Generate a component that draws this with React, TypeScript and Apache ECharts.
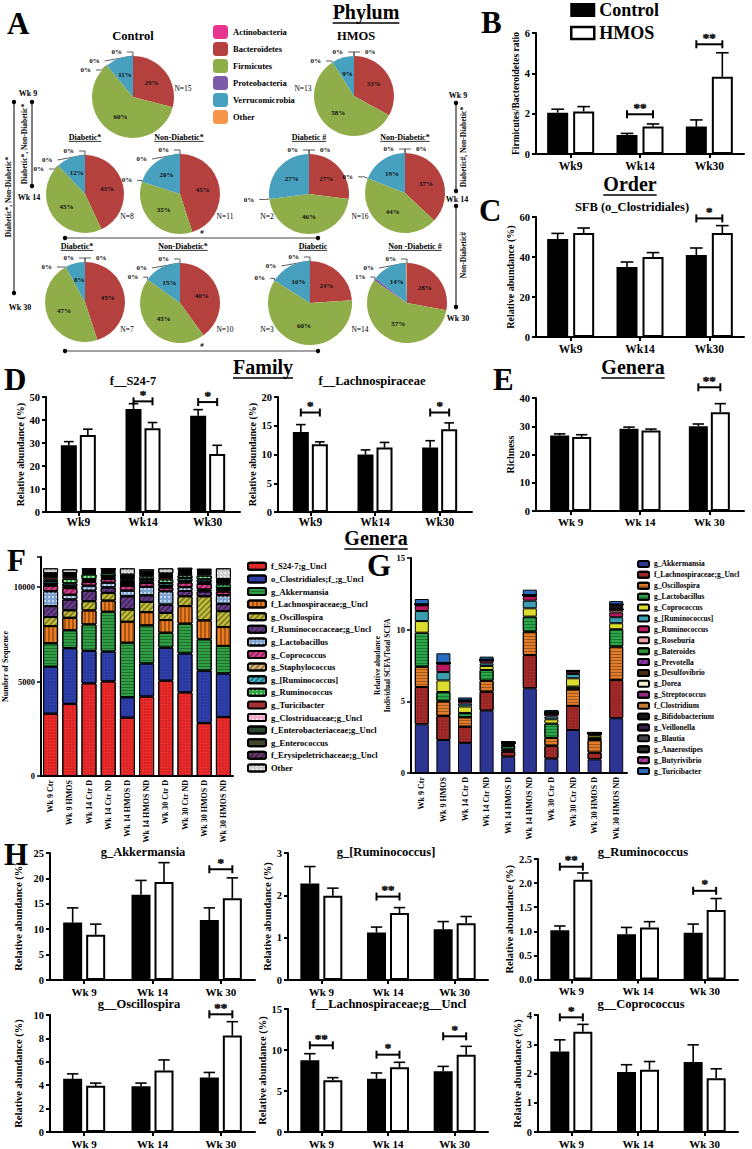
import React, { useEffect, useRef } from 'react';
import * as echarts from 'echarts';

const FONT = '"Liberation Serif", "Times New Roman", Times, serif';

/* ---------------- A : phylum pies ---------------- */
const phyla = ['Actinobacteria', 'Bacteroidetes', 'Firmicutes', 'Proteobacteria', 'Verrucomicrobia', 'Other'];
const pieCtrlWk9 = [0, 29, 60, 0, 11, 0];
const pieHmosWk9 = [0, 33, 58, 0, 9, 0];
const pieCtrlWk14D = [0, 43, 45, 0, 12, 0];
const pieCtrlWk14ND = [0, 45, 35, 0, 20, 0];
const pieHmosWk14D = [0, 27, 46, 0, 27, 0];
const pieHmosWk14ND = [0, 37, 44, 0, 19, 0];
const pieCtrlWk30D = [0, 45, 47, 0, 8, 0];
const pieCtrlWk30ND = [0, 40, 45, 0, 15, 0];
const pieHmosWk30D = [0, 24, 60, 0, 16, 0];
const pieHmosWk30ND = [0, 28, 57, 1, 14, 0.4];
const pieN = ['N=15', 'N=13', 'N=8', 'N=11', 'N=2', 'N=16', 'N=7', 'N=10', 'N=3', 'N=14'];

/* ---------------- bar charts ---------------- */
const weeks = ['Wk9', 'Wk14', 'Wk30'];
const weeksSp = ['Wk 9', 'Wk 14', 'Wk 30'];

// B Firmicutes/Bacteroidetes
const fbCtrl = [2.05, 0.94, 1.36];
const fbCtrlErr = [0.17, 0.08, 0.33];
const fbHmos = [2.11, 1.36, 3.83];
const fbHmosErr = [0.24, 0.13, 1.19];
const fbSig = [{ cat: 1, y: 1.97, label: '**' }, { cat: 2, y: 5.44, label: '**' }];
// C SFB
const sfbCtrl = [49, 35, 41];
const sfbCtrlErr = [2.8, 2.5, 3.5];
const sfbHmos = [52, 40, 52];
const sfbHmosErr = [2.5, 2.2, 3.7];
const sfbSig = [{ cat: 2, y: 59.3, label: '*' }];
// D f__S24-7
const s247Ctrl = [29, 44.8, 41.8];
const s247CtrlErr = [1.6, 2.3, 2.7];
const s247Hmos = [33.5, 36.4, 25.2];
const s247HmosErr = [2.5, 2.5, 3.8];
const s247Sig = [{ cat: 1, y: 48.1, label: '*' }, { cat: 2, y: 47.8, label: '*' }];
// D f__Lachnospiraceae
const lachCtrl = [13.9, 10, 11.2];
const lachCtrlErr = [1.3, 0.8, 1.2];
const lachHmos = [11.8, 11.2, 14.4];
const lachHmosErr = [0.4, 0.9, 1.1];
const lachSig = [{ cat: 0, y: 17.3, label: '*' }, { cat: 2, y: 17.3, label: '*' }];
// E richness
const richCtrl = [26.7, 29.1, 30];
const richCtrlErr = [0.6, 0.6, 0.8];
const richHmos = [26.2, 28.5, 35];
const richHmosErr = [0.8, 0.5, 3];
const richSig = [{ cat: 2, y: 43.8, label: '**' }];
// H
const akkCtrl = [11.3, 16.8, 11.8];
const akkCtrlErr = [2.9, 2.8, 2.4];
const akkHmos = [8.9, 19.3, 16.1];
const akkHmosErr = [2.1, 3.8, 4.0];
const akkSig = [{ cat: 2, y: 21.8, label: '*' }];
const brumCtrl = [2.28, 1.12, 1.2];
const brumCtrlErr = [0.4, 0.13, 0.18];
const brumHmos = [1.99, 1.58, 1.34];
const brumHmosErr = [0.18, 0.13, 0.16];
const brumSig = [{ cat: 1, y: 1.97, label: '**' }];
const rumCtrl = [1.02, 0.94, 0.97];
const rumCtrlErr = [0.09, 0.14, 0.18];
const rumHmos = [2.07, 1.08, 1.44];
const rumHmosErr = [0.14, 0.12, 0.24];
const rumSig = [{ cat: 0, y: 2.34, label: '**' }, { cat: 2, y: 1.84, label: '*' }];
const oscCtrl = [4.55, 3.9, 4.66];
const oscCtrlErr = [0.42, 0.28, 0.43];
const oscHmos = [3.95, 5.26, 8.24];
const oscHmosErr = [0.23, 0.9, 1.19];
const oscSig = [{ cat: 2, y: 10.06, label: '**' }];
const lachUnclCtrl = [8.74, 6.5, 7.4];
const lachUnclCtrlErr = [0.81, 0.7, 0.6];
const lachUnclHmos = [6.3, 7.89, 9.43];
const lachUnclHmosErr = [0.33, 0.61, 1.02];
const lachUnclSig = [{ cat: 0, y: 10.57, label: '**' }, { cat: 1, y: 9.43, label: '*' }, { cat: 2, y: 11.67, label: '*' }];
const coproCtrl = [2.75, 2.05, 2.39];
const coproCtrlErr = [0.4, 0.25, 0.59];
const coproHmos = [3.43, 2.13, 1.84];
const coproHmosErr = [0.25, 0.28, 0.32];
const coproSig = [{ cat: 0, y: 3.92, label: '*' }];

/* ---------------- F : sequences per genus ---------------- */
const fCats = ['Wk 9 Ctr', 'Wk 9 HMOS', 'Wk 14 Ctr D', 'Wk 14 Ctr ND', 'Wk 14 HMOS D', 'Wk 14 HMOS ND', 'Wk 30 Ctr D', 'Wk 30 Ctr ND', 'Wk 30 HMOS D', 'Wk 30 HMOS ND'];
const fNames = ['f_S24-7;g_Uncl', 'o_Clostridiales;f_;g_Uncl', 'g_Akkermansia', 'f_Lachnospiraceae;g_Uncl', 'g_Oscillospira', 'f_Ruminococcaceae;g_Uncl', 'g_Lactobacillus', 'g_Coprococcus', 'g_Staphylococcus', 'g_[Ruminococcus]', 'g_Ruminococcus', 'g_Turicibacter', 'g_Clostriduaceae;g_Uncl', 'f_Enterobacteriaceae;g_Uncl', 'g_Enterococcus', 'f_Erysipeletrichaceae;g_Uncl', 'Other'];
const fS247 = [3300, 3820, 4910, 5010, 3090, 4210, 5050, 4430, 2800, 3120];
const fClostridiales = [2490, 2950, 1720, 1580, 1080, 1750, 1750, 2060, 2780, 2310];
const fAkkermansia = [1240, 950, 1400, 2110, 2890, 2020, 790, 1580, 1660, 1460];
const fLachno = [910, 660, 740, 590, 1110, 700, 670, 930, 1000, 1000];
const fOscillospira = [480, 400, 490, 410, 650, 540, 380, 520, 1280, 840];
const fRuminococcaceae = [580, 570, 560, 290, 700, 350, 440, 280, 260, 390];
const fLactobacillus = [780, 250, 260, 250, 300, 450, 700, 200, 100, 450];
const fCoprococcus = [300, 350, 200, 200, 250, 200, 200, 250, 300, 200];
const fStaphylococcus = [80, 100, 50, 50, 100, 80, 80, 80, 80, 80];
const fBrRuminococcus = [150, 150, 100, 100, 100, 120, 150, 150, 150, 100];
const fRuminococcus = [100, 250, 250, 150, 100, 150, 200, 150, 200, 200];
const fTuricibacter = [120, 100, 50, 80, 80, 60, 100, 80, 80, 60];
const fClostridiaceae = [60, 50, 50, 50, 50, 50, 60, 60, 50, 80];
const fEnterobacteriaceae = [50, 50, 50, 50, 50, 50, 60, 60, 50, 50];
const fEnterococcus = [40, 50, 50, 30, 40, 50, 50, 50, 50, 50];
const fErysipelotrichaceae = [60, 50, 50, 30, 80, 50, 50, 50, 50, 50];
const fOther = [260, 200, 70, 20, 330, 120, 270, 100, 90, 560];
const fSeries = [fS247, fClostridiales, fAkkermansia, fLachno, fOscillospira, fRuminococcaceae, fLactobacillus, fCoprococcus, fStaphylococcus, fBrRuminococcus, fRuminococcus, fTuricibacter, fClostridiaceae, fEnterobacteriaceae, fEnterococcus, fErysipelotrichaceae, fOther];

/* ---------------- G : SCFA producers ---------------- */
const gNames = ['g_Akkermansia', 'f_Lachnospiraceae;g_Uncl', 'g_Oscillospira', 'g_Lactobacillus', 'g_Coprococcus', 'g_[Ruminococcus]', 'g_Ruminococcus', 'g_Roseburia', 'g_Bateroides', 'g_Prevotella', 'g_Desulfovibrio', 'g_Dorea', 'g_Streptococcus', 'f_Clostridium', 'g_Bifidobacterium', 'g_Veillonella', 'g_Blautia', 'g_Anaerostipes', 'g_Butyrivibrio', 'g_Turicibacter'];
const gAkkermansia = [3.4, 2.3, 2.1, 4.35, 1.14, 5.91, 1.0, 3.0, 0.95, 3.82];
const gLachno = [2.6, 1.68, 1.13, 1.32, 0.35, 2.32, 0.9, 1.68, 0.47, 2.67];
const gOscillospira = [1.42, 1.02, 0.66, 0.77, 0.15, 1.63, 0.55, 1.16, 0.88, 2.33];
const gLactobacillus = [2.37, 0.65, 0.3, 0.75, 0.25, 1.05, 1.0, 0.19, 0.15, 1.21];
const gCoprococcus = [0.81, 0.81, 0.45, 0.28, 0.05, 0.58, 0.3, 0.58, 0.17, 0.42];
const gBrRuminococcus = [0.7, 0.58, 0.2, 0.18, 0.05, 0.53, 0.2, 0.3, 0.05, 0.42];
const gRuminococcus = [0.4, 0.58, 0.17, 0.19, 0.05, 0.33, 0.15, 0.16, 0.05, 0.33];
const gRoseburia = [0.03, 0.02, 0.02, 0.03, 0.01, 0.03, 0.02, 0.02, 0.01, 0.19];
const gBateroides = [0.02, 0.02, 0.01, 0.02, 0.03, 0.02, 0.02, 0.02, 0.01, 0.02];
const gPrevotella = [0, 0, 0, 0, 0, 0, 0, 0, 0, 0];
const gDesulfovibrio = [0, 0, 0, 0, 0.01, 0, 0, 0, 0.03, 0];
const gDorea = [0, 0, 0, 0, 0, 0, 0, 0, 0, 0];
const gStreptococcus = [0, 0, 0, 0, 0, 0, 0, 0, 0, 0];
const gClostridium = [0, 0, 0, 0, 0, 0, 0, 0, 0, 0];
const gBifidobacterium = [0.02, 0.02, 0.03, 0.02, 0.05, 0.02, 0.1, 0.02, 0.05, 0.35];
const gVeillonella = [0, 0, 0, 0, 0, 0, 0, 0, 0, 0];
const gBlautia = [0, 0, 0, 0, 0, 0, 0, 0, 0, 0];
const gAnaerostipes = [0, 0, 0, 0, 0, 0, 0, 0, 0, 0];
const gButyrivibrio = [0, 0, 0, 0, 0, 0, 0, 0, 0, 0];
const gTuricibacter = [0.37, 0.67, 0.2, 0.21, 0.05, 0.37, 0.15, 0.05, 0.02, 0.23];
const gSeries = [gAkkermansia, gLachno, gOscillospira, gLactobacillus, gCoprococcus, gBrRuminococcus, gRuminococcus, gRoseburia, gBateroides, gPrevotella, gDesulfovibrio, gDorea, gStreptococcus, gClostridium, gBifidobacterium, gVeillonella, gBlautia, gAnaerostipes, gButyrivibrio, gTuricibacter];

/* ---------------- styles & layout ---------------- */
const NB = '\u00a0';
const phylaColors = ['#e8348f', '#b5413f', '#8fae4a', '#7d5ba6', '#47a0be', '#f6964a'];
const fColors = ['#ee2a2a', '#2e3fae', '#2f9e44', '#ee7d22', '#c9c43c', '#6b3f8f', '#7fa3d0', '#e0408e', '#e0bd7a', '#3fb7cc', '#27a83a', '#a83232', '#f2a8c8', '#2d4a33', '#4a4a30', '#6a3a6e', '#cfcfcf'];
const gColors = ['#2d3593', '#a52a2a', '#e27c2a', '#2aa748', '#dcdc2c', '#3a9eb0', '#b8185e', '#e8a0a0', '#2f9a3a', '#9a3fc0', '#4a3010', '#f2f0cc', '#a82a8a', '#c27a2c', '#151515', '#3b1f4f', '#444444', '#2b2b2b', '#c545b5', '#2a6cc0'];
const hStripes = { symbol: 'rect', symbolSize: 1, dashArrayX: [1, 0], dashArrayY: [1, 2], color: 'rgba(0,0,0,0.3)' };
const vStripes = { symbol: 'rect', symbolSize: 1, dashArrayX: [2, 2], dashArrayY: [1, 0], color: 'rgba(0,0,0,0.3)' };
const diag = { symbol: 'rect', symbolSize: 1, dashArrayX: [2, 2], dashArrayY: [1, 0], rotation: Math.PI / 4, color: 'rgba(0,0,0,0.35)' };
const checker = { symbol: 'rect', symbolSize: 1, dashArrayX: [2, 2], dashArrayY: [2, 2], color: 'rgba(255,255,255,0.55)' };
const dots = { symbol: 'circle', symbolSize: 0.6, dashArrayX: [2, 1], dashArrayY: [2, 1], color: 'rgba(0,0,0,0.35)' };
const fDecals: any[] = [dots, dots, hStripes, vStripes, diag, diag, checker, diag, diag, diag, checker, null, checker, dots, dots, diag, checker];
const gDecals: any[] = [null, dots, hStripes, hStripes, null, null, null, null, dots, diag, dots, null, dots, null, null, dots, null, dots, diag, null];

const pairCharts = [
  { ctrl: fbCtrl, ctrlErr: fbCtrlErr, hmos: fbHmos, hmosErr: fbHmosErr, sig: fbSig },
  { ctrl: sfbCtrl, ctrlErr: sfbCtrlErr, hmos: sfbHmos, hmosErr: sfbHmosErr, sig: sfbSig },
  { ctrl: s247Ctrl, ctrlErr: s247CtrlErr, hmos: s247Hmos, hmosErr: s247HmosErr, sig: s247Sig },
  { ctrl: lachCtrl, ctrlErr: lachCtrlErr, hmos: lachHmos, hmosErr: lachHmosErr, sig: lachSig },
  { ctrl: richCtrl, ctrlErr: richCtrlErr, hmos: richHmos, hmosErr: richHmosErr, sig: richSig },
  { ctrl: akkCtrl, ctrlErr: akkCtrlErr, hmos: akkHmos, hmosErr: akkHmosErr, sig: akkSig },
  { ctrl: brumCtrl, ctrlErr: brumCtrlErr, hmos: brumHmos, hmosErr: brumHmosErr, sig: brumSig },
  { ctrl: rumCtrl, ctrlErr: rumCtrlErr, hmos: rumHmos, hmosErr: rumHmosErr, sig: rumSig },
  { ctrl: oscCtrl, ctrlErr: oscCtrlErr, hmos: oscHmos, hmosErr: oscHmosErr, sig: oscSig },
  { ctrl: lachUnclCtrl, ctrlErr: lachUnclCtrlErr, hmos: lachUnclHmos, hmosErr: lachUnclHmosErr, sig: lachUnclSig },
  { ctrl: coproCtrl, ctrlErr: coproCtrlErr, hmos: coproHmos, hmosErr: coproHmosErr, sig: coproSig },
];
const RA = 'Relative abundance (%)';
const pairLayouts: any[] = [
  { left: 536, top: 33, width: 208, height: 121, max: 6, interval: 2, name: 'Firmicutes/Bacteroidetes ratio', nameGap: 11, nameSize: 9.5, barW: 21, gap: 5, cats: weeks, xSize: 11.5 },
  { left: 536, top: 217, width: 208, height: 120, max: 60, interval: 20, name: RA, nameGap: 14, nameSize: 10, barW: 21, gap: 5, cats: weeks, xSize: 11.5 },
  { left: 46, top: 397, width: 194, height: 115, max: 50, interval: 10, name: RA, nameGap: 17, nameSize: 10, barW: 16, gap: 3, cats: weeks, xSize: 11.5, xMargin: 4 },
  { left: 278, top: 397, width: 194, height: 115, max: 20, interval: 5, name: RA, nameGap: 17, nameSize: 10, barW: 16, gap: 3, cats: weeks, xSize: 11.5, xMargin: 4 },
  { left: 536, top: 398, width: 208, height: 113, max: 40, interval: 10, name: 'Richness', nameGap: 17, nameSize: 10, barW: 19, gap: 3, cats: weeksSp, xSize: 11, xMargin: 5 },
  { left: 50, top: 853, width: 205, height: 127, max: 25, interval: 5, name: RA, nameGap: 26, nameSize: 10.5, barW: 19, gap: 4, cats: weeksSp, xSize: 11 },
  { left: 288, top: 853, width: 200, height: 127, max: 3, interval: 1, name: RA, nameGap: 13, nameSize: 10.5, barW: 19, gap: 4, cats: weeksSp, xSize: 11 },
  { left: 538, top: 859, width: 200, height: 120.5, max: 2.5, interval: 0.5, name: RA, nameGap: 20, nameSize: 10.5, barW: 19, gap: 4, cats: weeksSp, xSize: 11, fmt1: true },
  { left: 50, top: 1015, width: 205, height: 117, max: 10, interval: 2, name: RA, nameGap: 26, nameSize: 10.5, barW: 19, gap: 4, cats: weeksSp, xSize: 11 },
  { left: 288, top: 1009, width: 200, height: 123, max: 15, interval: 5, name: RA, nameGap: 13, nameSize: 10.5, barW: 19, gap: 4, cats: weeksSp, xSize: 11 },
  { left: 538, top: 1015, width: 200, height: 117, max: 4, interval: 1, name: RA, nameGap: 15, nameSize: 10.5, barW: 19, gap: 4, cats: weeksSp, xSize: 11 },
];
const pieSets = [pieCtrlWk9, pieHmosWk9, pieCtrlWk14D, pieCtrlWk14ND, pieHmosWk14D, pieHmosWk14ND, pieCtrlWk30D, pieCtrlWk30ND, pieHmosWk30D, pieHmosWk30ND];
const pieLayout = [[133, 97, 41], [354, 96, 40], [85, 194, 39], [180, 194, 40], [309, 194, 40], [405, 193, 40], [85, 302, 40], [180, 303, 40], [310, 303, 42], [407, 303, 40]];
const pieNPos = [[183, 88], [303, 88], [127, 216], [225, 216], [267, 216], [360, 216], [127, 329], [225, 329], [267, 329], [360, 329]];

let measureCtx: any = null;
function textWidth(t: string, size: number, weight = 'bold') {
  if (!measureCtx) measureCtx = document.createElement('canvas').getContext('2d');
  if (!measureCtx) return t.length * size * 0.5;
  measureCtx.font = `${weight} ${size}px ${FONT}`;
  return measureCtx.measureText(t).width;
}
function T(x: number, y: number, text: string, size: number, o: any = {}) {
  const align = o.align || 'center';
  const va = o.va || 'middle';
  return {
    type: 'text', x, y, rotation: o.rot || 0, silent: true, z: 50,
    style: { text, fontSize: size, fontWeight: o.weight || 'bold', fontFamily: FONT, fill: '#000', align, verticalAlign: va, textAlign: align, textVerticalAlign: va },
  };
}
function U(x: number, y: number, text: string, size: number) {
  const w = textWidth(text, size);
  const ly = y + size * 0.55;
  return [T(x, y, text, size), { type: 'line', silent: true, z: 50, shape: { x1: x - w / 2, y1: ly, x2: x + w / 2, y2: ly }, style: { stroke: '#000', lineWidth: Math.max(0.8, size / 12) } }];
}
function DL(x1: number, y1: number, x2: number, y2: number, color = '#000') {
  return [
    { type: 'line', silent: true, z: 50, shape: { x1, y1, x2, y2 }, style: { stroke: color, lineWidth: 1 } },
    { type: 'circle', silent: true, z: 50, shape: { cx: x1, cy: y1, r: 2.2 }, style: { fill: '#000' } },
    { type: 'circle', silent: true, z: 50, shape: { cx: x2, cy: y2, r: 2.2 }, style: { fill: '#000' } },
  ];
}

function buildOption() {
  const grids: any[] = [];
  const xAxis: any[] = [];
  const yAxis: any[] = [];
  const series: any[] = [];
  const axLine = { color: '#000', width: 2 };
  const lbl = (size: number) => ({ color: '#000', fontFamily: FONT, fontWeight: 'bold', fontSize: size });

  pairCharts.forEach((c, gi) => {
    const L = pairLayouts[gi];
    grids.push({ left: L.left, top: L.top, width: L.width, height: L.height, containLabel: false, outerBoundsMode: 'none' });
    xAxis.push({
      type: 'category', gridIndex: gi, data: L.cats,
      axisLine: { lineStyle: axLine }, axisTick: { show: true, alignWithLabel: true, length: 4, lineStyle: axLine },
      axisLabel: { ...lbl(L.xSize), margin: L.xMargin || 6, interval: 0 }, splitLine: { show: false },
    });
    yAxis.push({
      type: 'value', gridIndex: gi, min: 0, max: L.max, interval: L.interval,
      axisLine: { show: true, lineStyle: axLine }, axisTick: { show: true, length: 4, lineStyle: axLine }, splitLine: { show: false },
      axisLabel: { ...lbl(10.5), margin: 6, formatter: L.fmt1 ? (v: number) => v.toFixed(1) : '{value}' },
      name: L.name, nameLocation: 'middle', nameGap: L.nameGap, nameTextStyle: lbl(L.nameSize),
    });
    const barGap = (L.gap / L.barW) * 100 + '%';
    const half = (L.barW + L.gap) / 2;
    series.push({ type: 'bar', name: 'Control', xAxisIndex: gi, yAxisIndex: gi, data: c.ctrl, barWidth: L.barW, barGap, silent: true, itemStyle: { color: '#000', borderColor: '#000', borderWidth: 1.5 }, z: 2 });
    series.push({ type: 'bar', name: 'HMOS', xAxisIndex: gi, yAxisIndex: gi, data: c.hmos, barWidth: L.barW, barGap, silent: true, itemStyle: { color: '#fff', borderColor: '#000', borderWidth: 2 }, z: 2 });
    const errData: any[] = [];
    c.ctrl.forEach((v, i) => errData.push([i, v, c.ctrlErr[i], -1]));
    c.hmos.forEach((v, i) => errData.push([i, v, c.hmosErr[i], 1]));
    series.push({
      type: 'custom', name: 'err' + gi, xAxisIndex: gi, yAxisIndex: gi, data: errData, z: 5, silent: true, encode: { x: 0, y: 1 },
      itemStyle: { color: '#000' },
      renderItem: (params: any, api: any) => {
        const cat = api.value(0), v = api.value(1), e = api.value(2), side = api.value(3);
        const p = api.coord([cat, v]);
        const q = api.coord([cat, v + e]);
        const x = p[0] + side * half;
        const cw = L.barW * 0.3;
        return {
          type: 'group', children: [
            { type: 'line', shape: { x1: x, y1: p[1], x2: x, y2: q[1] }, style: { stroke: '#000', lineWidth: 1.6 } },
            { type: 'line', shape: { x1: x - cw, y1: q[1], x2: x + cw, y2: q[1] }, style: { stroke: '#000', lineWidth: 1.6 } },
          ],
        };
      },
    });
    // bracket lines
    series.push({
      type: 'custom', name: 'sig' + gi, xAxisIndex: gi, yAxisIndex: gi, data: c.sig.map((s) => [s.cat, s.y]), z: 6, silent: true, clip: false, encode: { x: 0, y: 1 },
      itemStyle: { color: '#000' },
      renderItem: (params: any, api: any) => {
        const p = api.coord([api.value(0), api.value(1)]);
        const x1 = p[0] - half, x2 = p[0] + half, y = p[1];
        return {
          type: 'group', children: [
            { type: 'line', shape: { x1, y1: y, x2, y2: y }, style: { stroke: '#000', lineWidth: 2 } },
            { type: 'line', shape: { x1, y1: y - 4, x2: x1, y2: y + 4 }, style: { stroke: '#000', lineWidth: 2 } },
            { type: 'line', shape: { x1: x2, y1: y - 4, x2, y2: y + 4 }, style: { stroke: '#000', lineWidth: 2 } },
          ],
        };
      },
    });
    // star labels
    series.push({
      type: 'scatter', name: 'stars' + gi, xAxisIndex: gi, yAxisIndex: gi, silent: true, z: 7, clip: false,
      symbol: 'circle', symbolSize: 1, itemStyle: { color: 'rgba(0,0,0,0)' },
      data: c.sig.map((s) => ({ value: [s.cat, s.y], label: { formatter: s.label } })),
      label: { show: true, position: 'top', distance: 0, color: '#000', textBorderColor: '#000', textBorderWidth: 0.6, fontFamily: FONT, fontWeight: 'bold', fontSize: 13 },
      emphasis: { disabled: true },
    });
  });

  // F
  const fi = grids.length;
  grids.push({ left: 41, top: 557, width: 192, height: 219, containLabel: false, outerBoundsMode: 'none' });
  xAxis.push({ type: 'category', gridIndex: fi, data: fCats, axisLine: { lineStyle: axLine }, axisTick: { show: false }, axisLabel: { ...lbl(8), rotate: 90, interval: 0, margin: 4 } });
  yAxis.push({
    type: 'value', gridIndex: fi, min: 0, max: 11600, interval: 5000, splitLine: { show: false },
    axisLine: { show: true, lineStyle: axLine }, axisTick: { show: true, length: 4, lineStyle: { color: '#000', width: 1.5 } },
    axisLabel: { ...lbl(8.5), margin: 6, formatter: (v: number) => (v % 5000 === 0 ? String(v) : '') },
    name: 'Number of Sequence', nameLocation: 'middle', nameGap: 26, nameTextStyle: lbl(8),
  });
  fSeries.forEach((vals, k) => {
    const st: any = { color: fColors[k], borderColor: '#000', borderWidth: 1 };
    if (fDecals[k]) st.decal = fDecals[k];
    series.push({ type: 'bar', name: fNames[k] + NB, stack: 'F', xAxisIndex: fi, yAxisIndex: fi, data: vals, barWidth: 15, silent: true, itemStyle: st });
  });

  // G
  const gIdx = grids.length;
  grids.push({ left: 411, top: 558, width: 216, height: 215, containLabel: false, outerBoundsMode: 'none' });
  xAxis.push({ type: 'category', gridIndex: gIdx, data: fCats, axisLine: { lineStyle: axLine }, axisTick: { show: false }, axisLabel: { ...lbl(8), rotate: 90, interval: 0, margin: 4 } });
  yAxis.push({
    type: 'value', gridIndex: gIdx, min: 0, max: 15, interval: 5, splitLine: { show: false },
    axisLine: { show: true, lineStyle: axLine }, axisTick: { show: true, length: 4, lineStyle: { color: '#000', width: 1.5 } },
    axisLabel: { ...lbl(8.5), margin: 6 },
    name: 'Relative abudance\nIndividual SCFA/Total SCFA', nameLocation: 'middle', nameGap: 11, nameTextStyle: { ...lbl(7.5), lineHeight: 10 },
  });
  gSeries.forEach((vals, k) => {
    const st: any = { color: gColors[k], borderColor: '#000', borderWidth: 1 };
    if (gDecals[k]) st.decal = gDecals[k];
    series.push({ type: 'bar', name: gNames[k] + NB + NB, stack: 'G', xAxisIndex: gIdx, yAxisIndex: gIdx, data: vals, barWidth: 14, silent: true, itemStyle: st });
  });

  // pies
  pieSets.forEach((vals, k) => {
    series.push({
      type: 'pie', name: 'pie' + k, center: [pieLayout[k][0], pieLayout[k][1]], radius: pieLayout[k][2],
      startAngle: 90, clockwise: true, silent: true, avoidLabelOverlap: true,
      label: { show: true, formatter: (p: any) => Math.round(p.value) + '%', fontSize: 7, fontWeight: 'bold', fontFamily: FONT, color: '#111' },
      labelLine: { show: true, length: 4, length2: 6, lineStyle: { color: '#333', width: 0.8 } },
      emphasis: { disabled: true },
      data: phyla.map((n, i) => ({
        name: n, value: vals[i], itemStyle: { color: phylaColors[i] },
        label: { position: vals[i] < 2 ? 'outside' : 'inside' }, labelLine: { show: vals[i] < 2 },
      })),
    });
  });

  // graphic annotations
  const g: any[] = [];
  const bigs: any[] = [['A', 7, 23], ['B', 481, 22], ['C', 479, 210], ['D', 4, 379], ['E', 493, 379], ['F', 7, 560], ['G', 367, 565], ['H', 4, 854]];
  bigs.forEach(([t, x, y]) => g.push(T(x, y, t, 31, { align: 'left' })));
  g.push(...U(366, 12, 'Phylum', 20), ...U(630, 184, 'Order', 20), ...U(263, 367, 'Family', 20), ...U(633, 367, 'Genera', 20), ...U(376, 538, 'Genera', 20));
  g.push(T(133, 36, 'Control', 12.5), T(356, 36, 'HMOS', 12.5));
  g.push(...U(85, 137, 'Diabetic*', 8), ...U(179, 137, 'Non-Diabetic*', 8), ...U(309, 137, 'Diabetic #', 8), ...U(405, 137, 'Non-Diabetic*', 8));
  g.push(...U(77, 246, 'Diabetic*', 8), ...U(183, 246, 'Non-Diabetic*', 8), ...U(313, 246, 'Diabetic', 8), ...U(415, 246, 'Non -Diabetic #', 8));
  pieN.forEach((t, k) => g.push(T(pieNPos[k][0], pieNPos[k][1], t, 7.5, { weight: 'normal' })));
  g.push(...DL(65, 238, 318, 238, '#444'), T(202, 232, '#', 7), ...DL(65, 351, 318, 351, '#444'), T(202, 345, '#', 7));
  g.push(...DL(32, 102, 32, 186), ...DL(14, 102, 14, 293));
  g.push(T(28, 93, 'Wk 9', 8), T(29, 197, 'Wk 14', 8), T(20, 307, 'Wk 30', 8));
  g.push(T(24, 144, 'Diabetic*, Non-Diabetic*', 7.5, { rot: Math.PI / 2 }), T(8, 197, 'Diabetic*, Non-Diabetic*', 7.5, { rot: Math.PI / 2 }));
  g.push(...DL(456, 103, 456, 191), ...DL(456, 206, 456, 307));
  g.push(T(458, 95, 'Wk 9', 8), T(457, 199, 'Wk 14', 8), T(458, 318, 'Wk 30', 8));
  g.push(T(463, 147, 'Diabetic#, Non-Diabetic*', 7.5, { rot: Math.PI / 2 }), T(463, 255, 'Non-Diabetic#', 7.5, { rot: Math.PI / 2 }));
  g.push(T(632, 207, 'SFB (o_Clostridiales)', 12.5), T(133, 381, 'f__S24-7', 12.5), T(372, 381, 'f__Lachnospiraceae', 12.5));
  g.push(T(143, 852, 'g_Akkermansia', 12.5), T(386, 852, 'g_[Ruminococcus]', 12.5), T(643, 852, 'g_Ruminococcus', 12.5));
  g.push(T(139, 1004, 'g__Oscillospira', 12.5), T(389, 1004, 'f__Lachnospiraceae;g__Uncl', 12.5), T(641, 1004, 'g__Coprococcus', 12.5));

  const legTxt = (size: number, lh?: number) => ({ color: '#000', fontFamily: FONT, fontWeight: 'bold', fontSize: size, lineHeight: lh });
  const strip = (n: string) => n.replace(/\u00a0/g, '');
  const legend = [
    {
      data: [{ name: 'Control', itemStyle: { color: '#000' } }, { name: 'HMOS', itemStyle: { color: '#fff', borderColor: '#000', borderWidth: 2.5 } }],
      left: 570, top: 0, orient: 'vertical', icon: 'rect', itemWidth: 23, itemHeight: 12, itemGap: 3, padding: 0, selectedMode: false, textStyle: legTxt(18, 20),
    },
    { data: phyla, left: 213, top: 25, orient: 'vertical', icon: 'roundRect', itemWidth: 15, itemHeight: 14, itemGap: 3, padding: 0, selectedMode: false, textStyle: legTxt(8.5) },
    { data: fNames.map((n) => n + NB), left: 247, top: 560, orient: 'vertical', icon: 'roundRect', itemWidth: 18, itemHeight: 7, itemGap: 0, padding: 0, selectedMode: false, textStyle: legTxt(8.5, 12.6), formatter: strip },
    { data: gNames.map((n) => n + NB + NB), left: 637, top: 558.5, orient: 'vertical', icon: 'roundRect', itemWidth: 11, itemHeight: 6, itemGap: 0, padding: 0, selectedMode: false, textStyle: legTxt(7.5, 10.9), formatter: strip },
  ];

  return { animation: false, backgroundColor: '#fff', textStyle: { fontFamily: FONT }, grid: grids, xAxis, yAxis, series, legend, graphic: g };
}

export default function App() {
  const ref = useRef<HTMLDivElement>(null);
  useEffect(() => {
    if (!ref.current) return;
    const chart = echarts.init(ref.current, null, { renderer: 'svg' });
    chart.setOption(buildOption() as any);
    return () => chart.dispose();
  }, []);
  return <div ref={ref} style={{ position: 'absolute', left: 0, top: 0, width: 752, height: 1149, background: '#fff' }} />;
}
